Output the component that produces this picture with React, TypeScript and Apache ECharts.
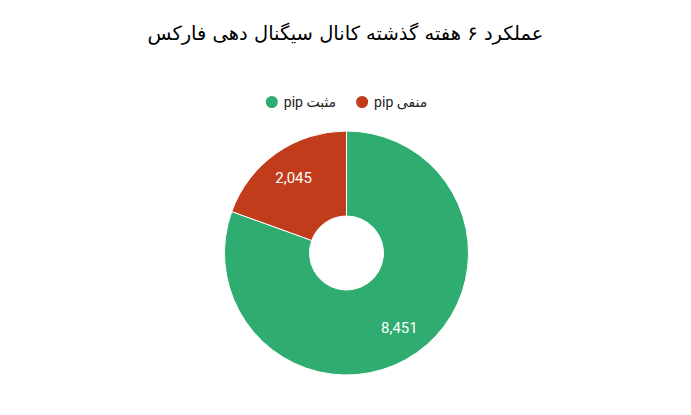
import React, { useEffect, useRef } from 'react';
import * as echarts from 'echarts';

const titleText = 'عملکرد ۶ هفته گذشته کانال سیگنال دهی فارکس';
const sliceNames = ['pip مثبت', 'pip منفی'];
const sliceValues = [8451, 2045];
const sliceColors = ['#2fac6f', '#c13c1a'];

const App: React.FC = () => {
  const chartRef = useRef<HTMLDivElement>(null);

  useEffect(() => {
    if (!chartRef.current) return;
    const myChart = echarts.init(chartRef.current, null, { renderer: 'svg' });

    const data = sliceNames.map((name, i) => ({
      name,
      value: sliceValues[i],
      itemStyle: { color: sliceColors[i] },
    }));

    const option = {
      animation: false,
      backgroundColor: '#ffffff',
      title: {
        text: titleText,
        left: 'center',
        top: 18,
        textStyle: {
          fontSize: 19.5,
          fontWeight: 'normal',
          color: '#000',
          fontFamily: 'DejaVu Sans, sans-serif',
        },
      },
      legend: {
        top: 89,
        left: 'center',
        icon: 'circle',
        itemWidth: 14,
        itemHeight: 14,
        itemGap: 18,
        textStyle: { fontSize: 14, color: '#222', fontFamily: 'Roboto, DejaVu Sans, sans-serif' },
        data: sliceNames,
      },
      series: [
        {
          name: 'pip',
          type: 'pie',
          center: [346.5, 253],
          radius: [37, 122],
          startAngle: 90,
          clockwise: true,
          avoidLabelOverlap: false,
          itemStyle: { borderColor: '#fff', borderWidth: 1 },
          label: { show: false },
          labelLine: { show: false },
          emphasis: { disabled: true },
          data,
        },
        {
          // label-only layer so the values sit further out than mid-ring
          name: 'labels',
          type: 'pie',
          center: [346.5, 253],
          radius: [56, 122],
          startAngle: 90,
          clockwise: true,
          silent: true,
          avoidLabelOverlap: false,
          itemStyle: { color: 'rgba(0,0,0,0)' },
          label: {
            show: true,
            position: 'inside',
            color: '#fff',
            fontSize: 15,
            fontFamily: 'Roboto, sans-serif',
            formatter: (p: any) => p.value.toLocaleString('en-US'),
          },
          labelLine: { show: false },
          emphasis: { disabled: true },
          data: sliceNames.map((name, i) => ({ name, value: sliceValues[i] })),
        },
      ],
    };

    myChart.setOption(option);
    return () => {
      myChart.dispose();
    };
  }, []);

  return (
    <div
      ref={chartRef}
      style={{ position: 'fixed', left: 0, top: 0, width: '691px', height: '415px' }}
    ></div>
  );
};

export default App;
